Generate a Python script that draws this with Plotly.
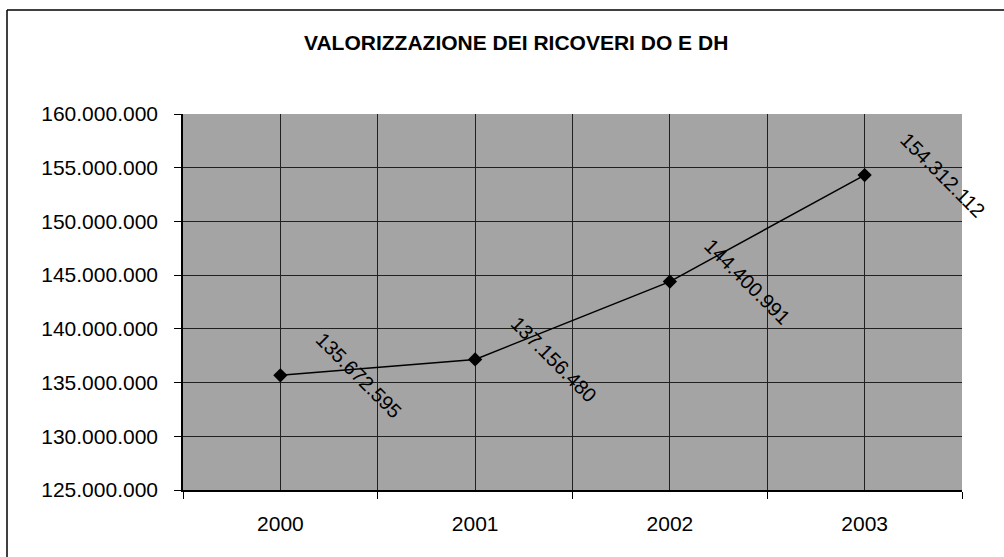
import plotly.graph_objects as go

years = [2000, 2001, 2002, 2003]
year_labels = ["2000", "2001", "2002", "2003"]
values = [135672595, 137156480, 144400991, 154312112]
value_labels = ["135.672.595", "137.156.480", "144.400.991", "154.312.112"]
title_text = "VALORIZZAZIONE DEI RICOVERI DO E DH"

W, H = 1004, 557
L, R, T, B = 183, 42, 114, 67
pw, ph = W - L - R, H - T - B

FONT = "Liberation Sans, Arial, sans-serif"

# grid positions: category centres and the boundaries between them
boundaries = [y - 0.5 for y in years] + [years[-1] + 0.5]
grid_vals = sorted(years + boundaries)
grid_text = [year_labels[years.index(v)] if v in years else "" for v in grid_vals]

fig = go.Figure()
fig.add_trace(go.Scatter(
    x=years, y=values, mode="lines+markers",
    line=dict(color="black", width=1.5),
    marker=dict(symbol="diamond", size=11, color="black"),
    cliponaxis=False, showlegend=False, hoverinfo="skip",
))

for xv, yv, lab in zip(years, values, value_labels):
    fig.add_annotation(
        x=xv, y=yv, text=lab, showarrow=False, textangle=45,
        xshift=78, yshift=0,
        font=dict(family=FONT, size=20, color="black"),
    )

fig.add_annotation(
    xref="paper", yref="paper",
    x=(516 - L) / pw, y=(H - B - 42) / ph,
    text="<b>" + title_text + "</b>", showarrow=False,
    xanchor="center", yanchor="middle",
    font=dict(family=FONT, size=21, color="black"),
)

# outer chart frame (top and left edges, as in the scan)
fig.add_shape(type="line", xref="paper", yref="paper",
              x0=(7 - L) / pw, x1=(W - L) / pw,
              y0=(H - B - 10) / ph, y1=(H - B - 10) / ph,
              line=dict(color="black", width=1.5))
fig.add_shape(type="line", xref="paper", yref="paper",
              x0=(7 - L) / pw, x1=(7 - L) / pw,
              y0=(H - B - 10) / ph, y1=(H - B - H) / ph,
              line=dict(color="black", width=1.5))

fig.update_layout(
    width=W, height=H,
    margin=dict(l=L, r=R, t=T, b=B),
    paper_bgcolor="white",
    plot_bgcolor="#a4a4a4",
    separators=",.",
    font=dict(family=FONT, size=21, color="black"),
)

fig.update_xaxes(
    range=[boundaries[0], boundaries[-1]],
    tickmode="array", tickvals=grid_vals, ticktext=grid_text,
    ticks="", showgrid=True, gridcolor="#202020", gridwidth=1,
    showline=True, linecolor="black", linewidth=1.5,
    zeroline=False,
    tickfont=dict(family=FONT, size=21, color="black"),
    ticklabelstandoff=14,
    minor=dict(tickmode="array", tickvals=boundaries, ticks="outside", ticklen=7,
               tickcolor="black", showgrid=False),
)
fig.update_yaxes(
    range=[125000000, 160000000], dtick=5000000, tickformat=",d",
    ticks="outside", ticklen=7, tickcolor="black",
    showgrid=True, gridcolor="#202020", gridwidth=1,
    showline=True, linecolor="black", linewidth=1.5,
    zeroline=False,
    tickfont=dict(family=FONT, size=21, color="black"),
    ticklabelstandoff=12,
)

fig.write_html("out.html", config={"displayModeBar": False},
               post_script="document.body.style.margin='0';")
